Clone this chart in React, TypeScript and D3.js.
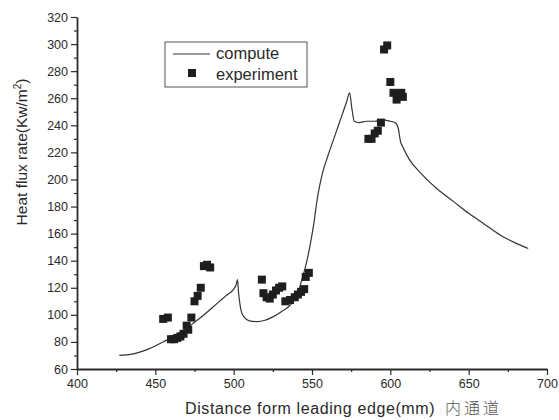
import { useEffect, useRef } from 'react';
import * as d3 from 'd3';

// compute curve (mm, Kw/m2)
const computeX = [427, 435, 440, 445, 450, 455, 460, 465, 470, 475, 480, 485, 490, 495, 500, 501.5, 502.5, 503, 504, 505, 507, 510, 515, 520, 525, 530, 535, 538, 541, 543.5, 545.5, 547.5, 549.5, 551.5, 553, 555, 557, 560, 563, 566, 569, 572, 574, 575.5, 577, 580, 585, 590, 595, 600, 603, 605, 606.5, 608, 612, 620, 630, 640, 650, 660, 670, 680, 688];
const computeY = [70, 71, 72.5, 74.5, 77, 80, 83, 86.5, 90, 94.5, 99, 104, 109, 114, 119, 122, 126, 118, 108, 102, 98, 95.5, 95, 96, 98.5, 102, 106, 110, 116, 126, 134, 144, 156, 170, 183, 196, 206, 217, 227, 237, 247, 257, 264, 252, 243, 242, 243, 243, 244, 243, 242, 238, 228, 224, 215, 204, 193, 184, 175, 167, 159, 153, 149];

// experiment points
const expX = [455, 458, 460, 462, 464, 466, 468, 470, 471, 473, 475, 477, 479, 481, 483, 485, 518, 519, 521, 523, 525, 527, 529, 531, 533, 536, 539, 541, 543, 545, 546, 548, 586, 588, 590, 592, 594, 596, 598, 600, 602, 604, 605, 607, 608];
const expY = [97, 98, 82, 82, 83, 84, 86, 92, 89, 98, 110, 114, 120, 136, 137, 135, 126, 116, 113, 112, 115, 118, 120, 121, 110, 111, 113, 115, 117, 119, 128, 131, 230, 230, 234, 236, 242, 296, 299, 272, 264, 259, 263, 264, 261];

const xTicks = [400, 450, 500, 550, 600, 650, 700];
const yTicks = [60, 80, 100, 120, 140, 160, 180, 200, 220, 240, 260, 280, 300, 320];

const font = '"Liberation Sans", Arial, sans-serif';
const ink = '#2a2a2a';

export default function App() {
  const ref = useRef<SVGSVGElement>(null);

  useEffect(() => {
    const svg = d3.select(ref.current);
    svg.selectAll('*').remove();

    const x = d3.scaleLinear().domain([400, 700]).range([77, 547]);
    const y = d3.scaleLinear().domain([60, 320]).range([369, 17]);

    const xMinor = d3.range(425, 700, 50);
    const yMinor = d3.range(70, 320, 20);

    // minor ticks
    svg.append('g')
      .attr('transform', `translate(0,${y(60)})`)
      .call(d3.axisBottom(x).tickValues(xMinor).tickSize(3).tickSizeOuter(0).tickFormat(() => ''))
      .call(g => g.select('.domain').remove());
    svg.append('g')
      .attr('transform', `translate(${x(400)},0)`)
      .call(d3.axisLeft(y).tickValues(yMinor).tickSize(3).tickSizeOuter(0).tickFormat(() => ''))
      .call(g => g.select('.domain').remove());

    // main axes
    const xAxis = svg.append('g')
      .attr('transform', `translate(0,${y(60)})`)
      .call(d3.axisBottom(x).tickValues(xTicks).tickSize(6).tickSizeOuter(0).tickPadding(4));
    const yAxis = svg.append('g')
      .attr('transform', `translate(${x(400)},0)`)
      .call(d3.axisLeft(y).tickValues(yTicks).tickSize(6).tickSizeOuter(0).tickPadding(3));

    svg.selectAll('.tick line').attr('stroke', ink).attr('stroke-width', 1.2);
    svg.selectAll('.domain').attr('stroke', ink).attr('stroke-width', 1.8);
    [xAxis, yAxis].forEach(a => a.selectAll('text')
      .attr('fill', ink).style('font-family', font).style('font-size', '12.5px'));

    // compute line
    const pts: [number, number][] = computeX.map((d, i) => [d, computeY[i]]);
    svg.append('path')
      .datum(pts)
      .attr('fill', 'none')
      .attr('stroke', '#333')
      .attr('stroke-width', 1.2)
      .attr('d', d3.line<[number, number]>().x(d => x(d[0])).y(d => y(d[1])).curve(d3.curveMonotoneX));

    // experiment squares
    const s = 8;
    svg.append('g')
      .selectAll('rect')
      .data(expX.map((d, i) => [d, expY[i]]))
      .join('rect')
      .attr('x', d => x(d[0]) - s / 2)
      .attr('y', d => y(d[1]) - s / 2)
      .attr('width', s)
      .attr('height', s)
      .attr('fill', '#1e1e1e');

    // legend
    const lg = svg.append('g');
    lg.append('rect').attr('x', 165).attr('y', 42).attr('width', 142).attr('height', 45)
      .attr('fill', 'none').attr('stroke', '#555').attr('stroke-width', 1);
    lg.append('line').attr('x1', 173).attr('x2', 210).attr('y1', 54).attr('y2', 54)
      .attr('stroke', '#333').attr('stroke-width', 1.2);
    lg.append('rect').attr('x', 188).attr('y', 69).attr('width', 8).attr('height', 8).attr('fill', '#1e1e1e');
    lg.append('text').attr('x', 216).attr('y', 59).text('compute')
      .attr('fill', ink).style('font-family', font).style('font-size', '16.5px');
    lg.append('text').attr('x', 216).attr('y', 80).text('experiment')
      .attr('fill', ink).style('font-family', font).style('font-size', '16.5px');

    // axis titles
    const yl = svg.append('text')
      .attr('transform', 'translate(27,152) rotate(-90)')
      .attr('text-anchor', 'middle')
      .attr('fill', ink)
      .style('font-family', font)
      .style('font-size', '15.5px');
    yl.append('tspan').text('Heat flux rate(Kw/m');
    yl.append('tspan').attr('dy', -6).style('font-size', '10px').text('2');
    yl.append('tspan').attr('dy', 6).text(')');

    const xl = svg.append('text')
      .attr('x', 185)
      .attr('y', 414)
      .attr('fill', ink)
      .style('font-family', font)
      .style('font-size', '16px')
      .style('letter-spacing', '0.6px');
    xl.append('tspan').text('Distance form leading edge(mm)');
    xl.append('tspan')
      .attr('dx', 10)
      .attr('fill', '#555')
      .style('font-family', '"Noto Sans CJK SC", sans-serif')
      .style('font-size', '16px')
      .style('font-weight', 300)
      .style('letter-spacing', '3px')
      .text('内通道');
  }, []);

  return (
    <svg
      ref={ref}
      width={559}
      height={420}
      style={{ position: 'absolute', left: 0, top: 0, background: '#fff' }}
    />
  );
}
